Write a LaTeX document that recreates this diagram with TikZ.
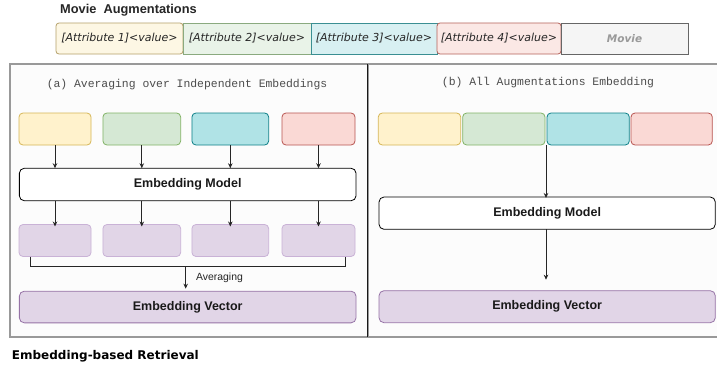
\documentclass[tikz,border=0pt]{standalone}
\usepackage{fontspec}
\setmainfont{Liberation Sans}
\setmonofont{Liberation Mono}
\newfontfamily\dejavu{DejaVu Sans}
\usetikzlibrary{arrows.meta,calc}
\definecolor{yelF}{HTML}{FFF2CC}\definecolor{yelD}{HTML}{D6B656}
\definecolor{grnF}{HTML}{D5E8D4}\definecolor{grnD}{HTML}{82B366}
\definecolor{cyaF}{HTML}{B0E3E6}\definecolor{cyaD}{HTML}{0E8088}
\definecolor{redF}{HTML}{FAD9D5}\definecolor{redD}{HTML}{B85450}
\definecolor{purF}{HTML}{E1D5E7}\definecolor{purD}{HTML}{9673A6}
\definecolor{purL}{HTML}{C9B2D6}
\definecolor{syF}{HTML}{FDF7E4}\definecolor{syD}{HTML}{B5A16A}
\definecolor{sgF}{HTML}{E9F3E8}\definecolor{sgD}{HTML}{8AAA7F}
\definecolor{scF}{HTML}{D8F0F2}\definecolor{scD}{HTML}{3A8F93}
\definecolor{srF}{HTML}{FBE8E5}\definecolor{srD}{HTML}{B5625A}
\definecolor{mvF}{HTML}{F5F5F5}\definecolor{mvD}{HTML}{666666}
\tikzset{
  base/.style={inner sep=0pt, outer sep=0pt, line width=0.8pt},
  attr/.style={base, draw, minimum height=31pt, font=\dejavu\itshape\fontsize{11}{13}\selectfont, text=black!85},
  cell/.style={base, draw, rounded corners=4pt, minimum height=32pt},
  model/.style={base, draw=black, fill=white, rounded corners=5pt, font=\bfseries\fontsize{12.5}{14}\selectfont, text=black!90},
  vec/.style={base, draw=purD, fill=purF, rounded corners=5pt, font=\bfseries\fontsize{12.5}{14}\selectfont, text=black!90},
  arr/.style={-{Stealth[length=5pt,width=4.5pt]}, line width=0.8pt, draw=black!85},
  panel/.style={draw=black!40, line width=1.2pt, fill=black!1},
  ptitle/.style={font=\ttfamily\fontsize{11.4}{13}\selectfont, text=black!70},
}
\begin{document}
\begin{tikzpicture}[x=1pt,y=-1pt]
\useasboundingbox (0,0) rectangle (717,367);
\fill[white] (0,0) rectangle (717,367);

% titles
\node[anchor=base west, inner sep=0pt, font=\bfseries\fontsize{12.8}{14}\selectfont, text=black!85] (t1) at (60,13) {Movie\ \ Augmentations};
\node[anchor=base west, inner sep=0pt, font=\dejavu\bfseries\fontsize{12}{14}\selectfont, text=black] (t2) at (11.7,359) {Embedding-based Retrieval};

% augmentation strip
\node[attr, draw=syD, fill=syF, rounded corners=3pt, minimum width=127pt] (a1) at (119.5,38.5) {[Attribute 1]<value>};
\node[attr, draw=sgD, fill=sgF, minimum width=128pt] (a2) at (247,38.5) {[Attribute 2]<value>};
\node[attr, draw=scD, fill=scF, minimum width=126pt] (a3) at (374,38.5) {[Attribute 3]<value>};
\node[attr, draw=srD, fill=srF, rounded corners=3pt, minimum width=124pt] (a4) at (499,38.5) {[Attribute 4]<value>};
\node[attr, draw=mvD, fill=mvF, minimum width=127pt, font=\dejavu\bfseries\itshape\fontsize{10.5}{12}\selectfont, text=black!40] (mv) at (624.5,38.5) {Movie};

% panels
\draw[panel] (10,64) rectangle (368,337);
\draw[panel] (368,64) rectangle (725,337);
\draw[line width=1pt, black!90] (367.5,64) -- (367.5,337);

\node[ptitle] (ta) at (187,85) {(a) Averaging over Independent Embeddings};
\node[ptitle] (tb) at (548,82.3) {(b) All Augmentations Embedding};

% (a) input cells
\node[cell, draw=yelD, fill=yelF, minimum width=72pt] (c1) at (55,129) {};
\node[cell, draw=grnD, fill=grnF, minimum width=77.7pt] (c2) at (141.8,129) {};
\node[cell, draw=cyaD, fill=cyaF, minimum width=76.7pt] (c3) at (230.3,129) {};
\node[cell, draw=redD, fill=redF, minimum width=73pt] (c4) at (318.5,129) {};

\node[model, minimum width=336.7pt, minimum height=32.5pt] (ma) at (187.7,184.5) {Embedding Model};

\node[cell, draw=purL, fill=purF, minimum width=72pt] (p1) at (55,240.5) {};
\node[cell, draw=purL, fill=purF, minimum width=77.7pt] (p2) at (141.8,240.5) {};
\node[cell, draw=purL, fill=purF, minimum width=76.7pt] (p3) at (230.3,240.5) {};
\node[cell, draw=purL, fill=purF, minimum width=73pt] (p4) at (318.5,240.5) {};

\node[vec, minimum width=336.7pt, minimum height=31.7pt] (va) at (187.7,307) {Embedding Vector};

\foreach \i in {1,2,3,4}{
  \draw[arr] (c\i.south) -- (c\i.south |- ma.north);
  \draw[arr] (p\i.north |- ma.south) -- ([yshift=-2pt]p\i.north);
}
\coordinate (bl) at (30,266.7);
\coordinate (br) at (345.3,266.7);
\coordinate (bm) at (185.7,266.7);
\draw[line width=0.8pt, black!85] (bl |- p1.south) -- (bl) -- (br) -- (br |- p4.south);
\draw[arr] (bm) -- ([yshift=2.5pt]bm |- va.north);
\node[anchor=west, inner sep=0pt, font=\fontsize{10.4}{12}\selectfont, text=black!85] (avg) at (196,277.7) {Averaging};

% (b)
\node[cell, draw=yelD, fill=yelF, minimum width=82.4pt] (d1) at (419.5,129) {};
\node[cell, draw=grnD, fill=grnF, minimum width=82.3pt] (d2) at (503.85,129) {};
\node[cell, draw=cyaD, fill=cyaF, minimum width=82.3pt] (d3) at (588.15,129) {};
\node[cell, draw=redD, fill=redF, minimum width=81.3pt] (d4) at (671.65,129) {};

\node[model, minimum width=336.3pt, minimum height=32.3pt] (mb) at (547.15,213.15) {Embedding Model};
\node[vec, minimum width=336.3pt, minimum height=32pt] (vb) at (547.15,306.7) {Embedding Vector};

\coordinate (dm) at ($(d2.south east)!0.5!(d3.south west)$);
\draw[arr] (dm) -- ([yshift=-1pt]dm |- mb.north);
\draw[arr, shorten >=11pt] (dm |- mb.south) -- (dm |- vb.north);
\end{tikzpicture}
\end{document}
